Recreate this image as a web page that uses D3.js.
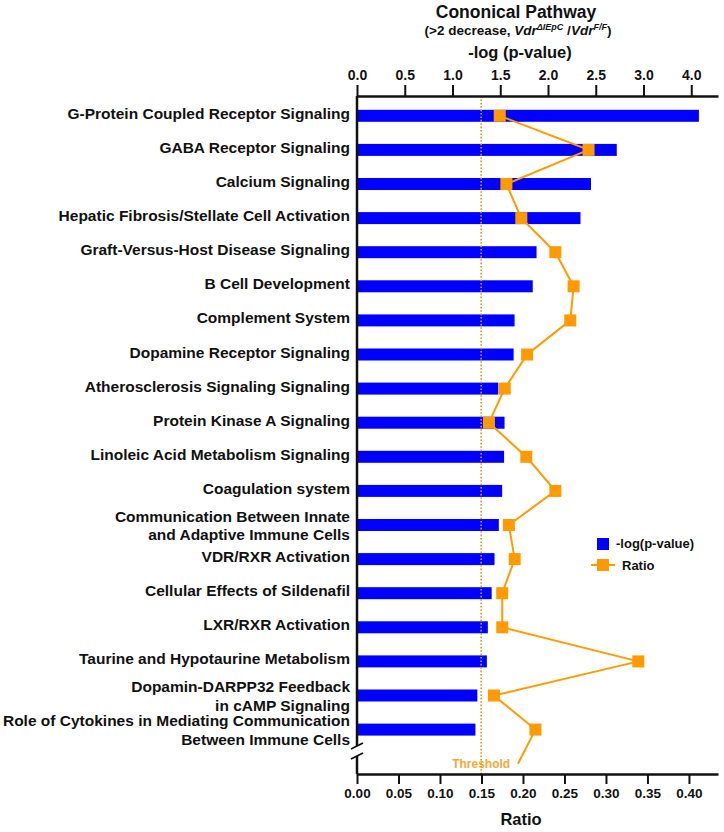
<!DOCTYPE html>
<html>
<head>
<meta charset="utf-8">
<script src="https://cdn.jsdelivr.net/npm/d3@7"></script>
<style>
  html, body { margin: 0; padding: 0; background: #fff; }
  svg { display: block; }
  text { font-family: "Liberation Sans", Arial, Helvetica, sans-serif; font-weight: bold; fill: #111; }
</style>
</head>
<body>
<svg id="chart" width="724" height="832"></svg>
<script>
// ---------- data ----------
const categories = [
  "G-Protein Coupled Receptor Signaling",
  "GABA Receptor Signaling",
  "Calcium Signaling",
  "Hepatic Fibrosis/Stellate Cell Activation",
  "Graft-Versus-Host Disease Signaling",
  "B Cell Development",
  "Complement System",
  "Dopamine Receptor Signaling",
  "Atherosclerosis Signaling Signaling",
  "Protein Kinase A Signaling",
  "Linoleic Acid Metabolism Signaling",
  "Coagulation system",
  "Communication Between Innate\nand Adaptive Immune Cells",
  "VDR/RXR Activation",
  "Cellular Effects of Sildenafil",
  "LXR/RXR Activation",
  "Taurine and Hypotaurine Metabolism",
  "Dopamin-DARPP32 Feedback\nin cAMP Signaling",
  "Role of Cytokines in Mediating Communication\nBetween Immune Cells"
];
const negLogP = [3.58, 2.72, 2.45, 2.34, 1.88, 1.84, 1.65, 1.64, 1.48, 1.545,
                 1.54, 1.52, 1.485, 1.44, 1.41, 1.37, 1.36, 1.26, 1.24];
const ratio = [0.172, 0.279, 0.180, 0.198, 0.239, 0.261, 0.257, 0.205, 0.178, 0.159,
               0.204, 0.239, 0.183, 0.190, 0.175, 0.175, 0.339, 0.165, 0.215];
// the ratio line continues past the axis break (no marker there)
const ratioTail = 0.194;
const topTickValues = [0, 0.5, 1.0, 1.5, 2.0, 2.5, 3.0, 3.5];
const topTickLabels = ["0.0", "0.5", "1.0", "1.5", "2.0", "2.5", "3.0", "4.0"];
const ratioTicks = [0, 0.05, 0.10, 0.15, 0.20, 0.25, 0.30, 0.35, 0.40];
const thresholdNegLogP = 1.3;

// ---------- layout ----------
const svg = d3.select("#chart");
const x0 = 357, x1 = 718;
const topY = 96, botY = 774;
const blue = "#0000FF", orange = "#FF9A00";

const xTop = d3.scaleLinear().domain([0, 3.78]).range([x0, x1]);
const xBot = d3.scaleLinear().domain([0, 0.435]).range([x0, x1]);
const slots = categories.map((c, i) => i).concat([categories.length]);
const yS = d3.scalePoint().domain(slots).range([115.8, 115.8 + 19 * 34.1]);
const barH = 12;

// ---------- titles ----------
svg.append("text").attr("x", 516).attr("y", 18).attr("text-anchor", "middle")
  .style("font-size", "17.5px").text("Cononical Pathway");
const sub = svg.append("text").attr("x", 518).attr("y", 35).attr("text-anchor", "middle")
  .style("font-size", "13.5px");
sub.append("tspan").text("(>2 decrease, ");
sub.append("tspan").style("font-style", "italic").text("Vdr");
sub.append("tspan").style("font-style", "italic").style("font-size", "9px").attr("dy", -5).text("ΔIEpC");
sub.append("tspan").attr("dy", 5).text(" /");
sub.append("tspan").style("font-style", "italic").text("Vdr");
sub.append("tspan").style("font-style", "italic").style("font-size", "9px").attr("dy", -5).text("F/F");
sub.append("tspan").attr("dy", 5).text(")");
svg.append("text").attr("x", 520).attr("y", 58).attr("text-anchor", "middle")
  .style("font-size", "16.5px").text("-log (p-value)");
svg.append("text").attr("x", 521).attr("y", 825).attr("text-anchor", "middle")
  .style("font-size", "16.5px").text("Ratio");

// ---------- bars ----------
svg.append("g").selectAll("rect").data(categories).join("rect")
  .attr("x", xTop(0))
  .attr("y", (d, i) => yS(i) - barH / 2)
  .attr("width", (d, i) => xTop(negLogP[i]) - xTop(0))
  .attr("height", barH)
  .attr("fill", blue);

// ---------- threshold ----------
svg.append("line")
  .attr("x1", xTop(thresholdNegLogP)).attr("x2", xTop(thresholdNegLogP))
  .attr("y1", topY).attr("y2", botY)
  .attr("stroke", "#D39A1A").attr("stroke-width", 1.6).attr("stroke-dasharray", "1.6,1.8");
svg.append("text").attr("x", xTop(thresholdNegLogP)).attr("y", 768).attr("text-anchor", "middle")
  .style("font-size", "12px").style("fill", "#F7A73A").text("Threshold");

// ---------- ratio line ----------
const linePts = ratio.map((r, i) => [xBot(r), yS(i)]).concat([[xBot(ratioTail), yS(categories.length)]]);
svg.append("path").attr("d", d3.line()(linePts))
  .attr("fill", "none").attr("stroke", orange).attr("stroke-width", 2);
svg.append("g").selectAll("rect").data(ratio).join("rect")
  .attr("x", (d) => xBot(d) - 6)
  .attr("y", (d, i) => yS(i) - 6)
  .attr("width", 12).attr("height", 12)
  .attr("fill", orange);

// ---------- axes ----------
const gTop = svg.append("g").attr("transform", `translate(0,${topY})`)
  .call(d3.axisTop(xTop).tickValues(topTickValues)
    .tickFormat((d, i) => topTickLabels[i]).tickSize(11).tickSizeOuter(0).tickPadding(5));
const gBot = svg.append("g").attr("transform", `translate(0,${botY})`)
  .call(d3.axisBottom(xBot).tickValues(ratioTicks)
    .tickFormat(d3.format(".2f")).tickSize(10).tickSizeOuter(0).tickPadding(4.5));
[gTop, gBot].forEach(g => {
  g.select(".domain").attr("stroke", "#111").attr("stroke-width", 2.5);
  g.selectAll(".tick line").attr("stroke", "#111").attr("stroke-width", 2);
  g.selectAll(".tick text").attr("fill", "#111")
    .style("font-family", '"Liberation Sans", Arial, sans-serif').style("font-weight", "bold");
});
gTop.selectAll(".tick text").style("font-size", "14px");
gBot.selectAll(".tick text").style("font-size", "13.5px");

// left axis with break
const yAx = svg.append("g").attr("stroke", "#111").attr("stroke-width", 2.5);
yAx.append("line").attr("x1", x0).attr("x2", x0).attr("y1", topY).attr("y2", 746);
yAx.append("line").attr("x1", x0).attr("x2", x0).attr("y1", 756).attr("y2", botY);
yAx.append("line").attr("x1", 351).attr("x2", 363).attr("y1", 749).attr("y2", 743).attr("stroke-width", 1.8);
yAx.append("line").attr("x1", 351).attr("x2", 363).attr("y1", 759).attr("y2", 753).attr("stroke-width", 1.8);

// ---------- category labels ----------
const lab = svg.append("g").selectAll("text").data(categories).join("text")
  .attr("text-anchor", "end").style("font-size", "15.5px");
lab.each(function (d, i) {
  const lines = d.split("\n");
  const yc = yS(i);
  const first = yc + 3 - (lines.length - 1) * 6.25;
  lines.forEach((ln, k) => {
    d3.select(this).append("tspan").attr("x", 350).attr("y", first + k * 18.5).text(ln);
  });
});

// ---------- legend ----------
const lg = svg.append("g");
lg.append("rect").attr("x", 597).attr("y", 538).attr("width", 12).attr("height", 12).attr("fill", blue);
lg.append("text").attr("x", 616).attr("y", 548).style("font-size", "13px").text("-log(p-value)");
lg.append("line").attr("x1", 591).attr("x2", 615).attr("y1", 565).attr("y2", 565)
  .attr("stroke", orange).attr("stroke-width", 2);
lg.append("rect").attr("x", 597).attr("y", 559).attr("width", 12).attr("height", 12).attr("fill", orange);
lg.append("text").attr("x", 622).attr("y", 570).style("font-size", "13px").text("Ratio");
</script>
</body>
</html>
